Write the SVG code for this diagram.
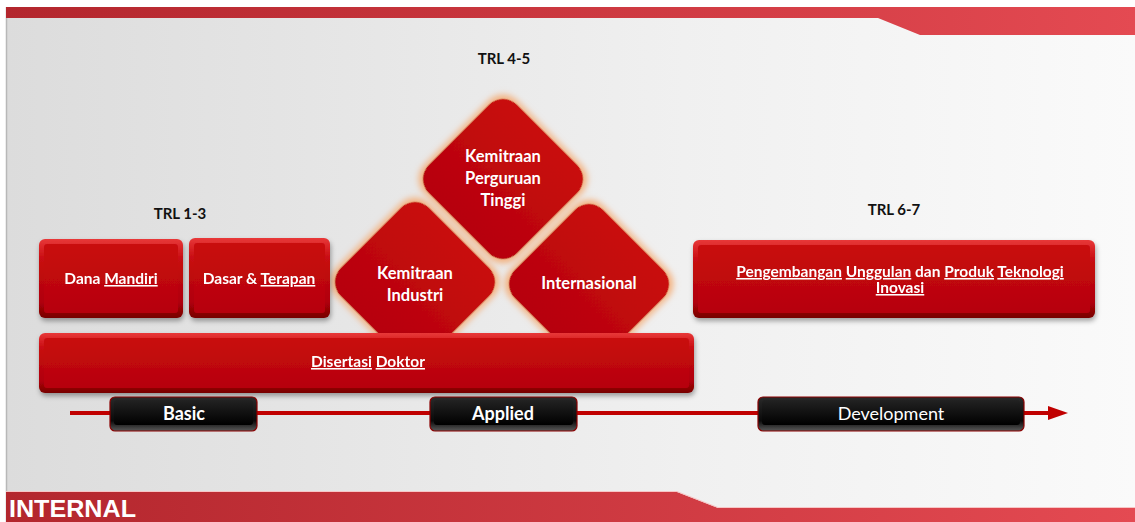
<svg xmlns="http://www.w3.org/2000/svg" width="1135" height="522" viewBox="0 0 1135 522">
<defs>
<linearGradient id="bg" x1="0" y1="0" x2="1" y2="0">
<stop offset="0" stop-color="#dcdcdc"/><stop offset="0.6" stop-color="#f0f0f0"/><stop offset="1" stop-color="#fafafa"/>
</linearGradient>
<linearGradient id="band" x1="0" y1="0" x2="1" y2="0">
<stop offset="0" stop-color="#b3262d"/><stop offset="1" stop-color="#e44a52"/>
</linearGradient>
<linearGradient id="redEdge" x1="0" y1="0" x2="0" y2="1">
<stop offset="0" stop-color="#e83838"/><stop offset="0.25" stop-color="#c80c12"/><stop offset="0.8" stop-color="#b00208"/><stop offset="1" stop-color="#760003"/>
</linearGradient>
<linearGradient id="redFace" x1="0" y1="0" x2="0" y2="1">
<stop offset="0" stop-color="#c90b11"/><stop offset="1" stop-color="#b60308"/>
</linearGradient>
<linearGradient id="blackEdge" x1="0" y1="0" x2="0" y2="1">
<stop offset="0" stop-color="#2a2a2a"/><stop offset="0.7" stop-color="#0a0a0a"/><stop offset="1" stop-color="#5a5a5a"/>
</linearGradient>
<linearGradient id="blackFace" x1="0" y1="0" x2="0" y2="1">
<stop offset="0" stop-color="#222"/><stop offset="1" stop-color="#000"/>
</linearGradient>
<filter id="shadow" x="-10%" y="-20%" width="120%" height="150%">
<feDropShadow dx="1" dy="3" stdDeviation="2.5" flood-color="#000" flood-opacity="0.35"/>
</filter>
<filter id="glow" x="-20%" y="-20%" width="140%" height="140%">
<feMorphology in="SourceAlpha" operator="dilate" radius="3" result="d"/>
<feGaussianBlur in="d" stdDeviation="3" result="b"/>
<feFlood flood-color="#f4a86e" flood-opacity="0.85"/>
<feComposite in2="b" operator="in" result="g"/>
<feMerge><feMergeNode in="g"/><feMergeNode in="SourceGraphic"/></feMerge>
</filter>
<marker id="arrow" markerWidth="20" markerHeight="14" refX="2" refY="7" orient="auto" markerUnits="userSpaceOnUse">
<path d="M0,0 L20,7 L0,14 Z" fill="#c00000"/>
</marker>
</defs>
<style>
.trl{font-family:Lato,"Open Sans",sans-serif;font-weight:bold;font-size:15px;fill:#111;text-anchor:middle}
.wt{font-family:Lato,"Open Sans",sans-serif;font-weight:bold;font-size:15.5px;fill:#fff;text-anchor:middle}
.dt{font-family:Lato,"Open Sans",sans-serif;font-weight:bold;font-size:16.5px;fill:#fff;text-anchor:middle}
.lb{font-family:Lato,"Open Sans",sans-serif;font-size:18px;fill:#fff;text-anchor:middle}
.ul{text-decoration:underline;text-decoration-color:#f3b0b0}
.diamond{fill:url(#redFace);filter:url(#glow)}
</style>

<!-- background -->
<rect x="0" y="0" width="1135" height="522" fill="#fff"/>
<rect x="6" y="7" width="1129" height="515" fill="url(#bg)"/>
<line x1="6.5" y1="7" x2="6.5" y2="522" stroke="#b8b8b8" stroke-width="1.5"/>
<polygon points="6,7 1135,7 1135,35 920,35 878,18 6,18" fill="url(#band)"/>
<polygon points="6,492 677,492 718,508 1135,508 1135,522 6,522" fill="url(#band)"/>
<polyline points="6,491.5 677,491.5 718,507.5 1135,507.5" fill="none" stroke="#f7c6c6" stroke-width="1"/>
<text x="9" y="517" font-family="'Liberation Sans',Arial,sans-serif" font-weight="bold" font-size="24" fill="#fff" textLength="127" lengthAdjust="spacingAndGlyphs">INTERNAL</text>

<!-- TRL labels -->
<text class="trl" x="180" y="219">TRL 1-3</text>
<text class="trl" x="504" y="64">TRL 4-5</text>
<text class="trl" x="894" y="215">TRL 6-7</text>

<!-- connectors: timeline -->
<g id="connectors">
<line x1="70" y1="413" x2="1050" y2="413" stroke="#c00000" stroke-width="4" marker-end="url(#arrow)"/>
</g>

<!-- diamonds -->
<g id="node-kpt">
<rect class="diamond" x="-62.5" y="-62.5" width="125" height="125" rx="20" transform="translate(503,179) rotate(45)"/>
<text class="dt" x="503" y="162">Kemitraan</text>
<text class="dt" x="503" y="184">Perguruan</text>
<text class="dt" x="503" y="206">Tinggi</text>
</g>
<g id="node-ki">
<rect class="diamond" x="-62.5" y="-62.5" width="125" height="125" rx="20" transform="translate(415,282) rotate(45)"/>
<text class="dt" x="415" y="279">Kemitraan</text>
<text class="dt" x="415" y="301">Industri</text>
</g>
<g id="node-int">
<rect class="diamond" x="-62.5" y="-62.5" width="125" height="125" rx="20" transform="translate(589,284) rotate(45)"/>
<text class="dt" x="589" y="289">Internasional</text>
</g>

<!-- red boxes -->
<g id="node-dana" filter="url(#shadow)">
<rect x="39" y="239" width="144" height="79" rx="6" fill="url(#redEdge)"/>
<rect x="44" y="244" width="134" height="69" rx="3" fill="url(#redFace)"/>
<text class="wt" x="111" y="284">Dana <tspan class="ul">Mandiri</tspan></text>
</g>
<g id="node-dasar" filter="url(#shadow)">
<rect x="189" y="238" width="141" height="80" rx="6" fill="url(#redEdge)"/>
<rect x="194" y="243" width="131" height="70" rx="3" fill="url(#redFace)"/>
<text class="wt" x="259" y="284">Dasar &amp; <tspan class="ul">Terapan</tspan></text>
</g>
<g id="node-disertasi" filter="url(#shadow)">
<rect x="39" y="333" width="655" height="60" rx="6" fill="url(#redEdge)"/>
<rect x="44" y="338" width="645" height="50" rx="3" fill="url(#redFace)"/>
<text class="wt" x="368" y="367" font-size="14"><tspan class="ul">Disertasi</tspan> <tspan class="ul">Doktor</tspan></text>
</g>
<g id="node-pengembangan" filter="url(#shadow)">
<rect x="693" y="240" width="402" height="78" rx="6" fill="url(#redEdge)"/>
<rect x="698" y="245" width="392" height="68" rx="3" fill="url(#redFace)"/>
<text class="wt" x="900" y="277" font-size="15"><tspan class="ul">Pengembangan</tspan> <tspan class="ul">Unggulan</tspan> dan <tspan class="ul">Produk</tspan> <tspan class="ul">Teknologi</tspan></text>
<text class="wt" x="900" y="293" font-size="15"><tspan class="ul">Inovasi</tspan></text>
</g>

<!-- timeline labels -->
<g id="node-basic">
<rect x="110" y="397" width="147" height="34" rx="5" fill="url(#blackEdge)" stroke="#8a0000" stroke-width="1.2"/>
<rect x="114" y="400" width="139" height="25" rx="3" fill="url(#blackFace)"/>
<text class="lb" x="184" y="420" font-weight="bold">Basic</text>
</g>
<g id="node-applied">
<rect x="430" y="397" width="147" height="34" rx="5" fill="url(#blackEdge)" stroke="#8a0000" stroke-width="1.2"/>
<rect x="434" y="400" width="139" height="25" rx="3" fill="url(#blackFace)"/>
<text class="lb" x="503" y="420" font-weight="bold">Applied</text>
</g>
<g id="node-development">
<rect x="758" y="397" width="266" height="34" rx="5" fill="url(#blackEdge)" stroke="#8a0000" stroke-width="1.2"/>
<rect x="762" y="400" width="258" height="25" rx="3" fill="url(#blackFace)"/>
<text class="lb" x="891" y="420" fill="#e6e6e6">Development</text>
</g>
</svg>
